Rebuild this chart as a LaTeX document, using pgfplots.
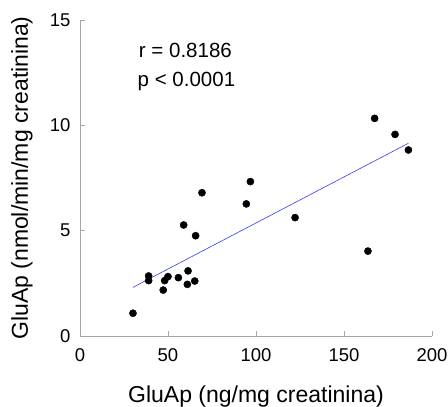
\documentclass[border=0pt]{standalone}
\usepackage{pgfplots}
\pgfplotsset{compat=1.18}
\usepackage{fontspec}
\setmainfont{Liberation Sans}
\definecolor{axisgray}{HTML}{A6A6A6}
\definecolor{fitblue}{HTML}{3A3AF0}

% GluAp urinaria: ng/mg vs nmol/min/mg creatinina
\pgfplotstableread{
x      y
30.1   1.08
39.0   2.85
39.0   2.63
47.3   2.18
48.1   2.63
50.0   2.82
55.9   2.77
61.0   2.45
61.4   3.09
65.2   2.61
58.9   5.27
65.7   4.76
69.3   6.80
94.5   6.27
96.8   7.33
122.2  5.62
163.6  4.03
167.4  10.33
179.0  9.57
186.6  8.83
}\gluap

\begin{document}
\begin{tikzpicture}
\useasboundingbox (-80bp,-71bp) rectangle (368bp,336bp);
\begin{axis}[
  scale only axis,
  width=352bp, height=316bp,
  xmin=0, xmax=200, ymin=0, ymax=15,
  axis x line*=bottom, axis y line*=left,
  axis line style={axisgray, line width=0.8pt, -},
  xtick={0,50,100,150,200},
  ytick={0,5,10,15},
  tick align=inside,
  major tick length=5bp,
  tick style={axisgray, line width=0.8pt},
  /pgf/number format/assume math mode=true,
  ticklabel style={font=\fontsize{18.5bp}{22bp}\selectfont, text=black},
  xticklabel style={yshift=-9bp},
  yticklabel style={xshift=-6bp},
  xlabel={GluAp (ng/mg creatinina)},
  ylabel={GluAp (nmol/min/mg creatinina)},
  label style={font=\fontsize{23bp}{27bp}\selectfont},
  xlabel style={at={(axis description cs:0.5,0)}, anchor=center, yshift=-61bp},
  ylabel style={at={(axis description cs:0,0.5)}, anchor=center, yshift=58bp},
  clip=false,
]
\addplot[fitblue, line width=0.6pt] coordinates {(30.1,2.31) (186.6,9.15)};
\addplot[only marks, mark=*, mark size=3.6bp, black] table[x=x, y=y] {\gluap};
\node[anchor=west, font=\fontsize{20.5bp}{24bp}\selectfont] at (axis cs:31.5,13.57) {r = 0.8186};
\node[anchor=west, font=\fontsize{20.5bp}{24bp}\selectfont] at (axis cs:30.8,12.1) {p < 0.0001};
\end{axis}
\end{tikzpicture}
\end{document}
